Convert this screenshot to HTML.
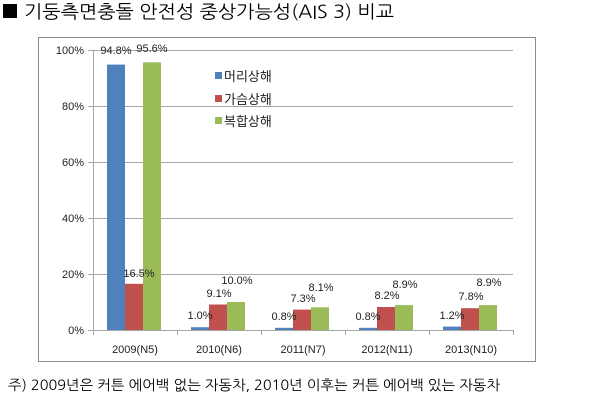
<!DOCTYPE html>
<html><head><meta charset="utf-8"><style>
body{margin:0;background:#fff;width:610px;height:402px;overflow:hidden}
svg{display:block}
</style></head><body>
<svg width="610" height="402" xmlns="http://www.w3.org/2000/svg" font-family="'Liberation Sans','Noto Sans CJK KR',sans-serif">
<rect x="3" y="4" width="14" height="14" fill="#000"/>
<text x="24" y="18" font-size="18" textLength="370" lengthAdjust="spacingAndGlyphs" font-family="'NanumGothic','Noto Sans CJK KR',sans-serif">기둥측면충돌 안전성 중상가능성(AIS 3) 비교</text>
<rect x="38.5" y="37.5" width="497" height="324" fill="#fff" stroke="#8c8c8c"/>
<g stroke="#a6a6a6" stroke-width="1">
<line x1="93" y1="50.5" x2="513" y2="50.5"/>
<line x1="93" y1="106.5" x2="513" y2="106.5"/>
<line x1="93" y1="162.5" x2="513" y2="162.5"/>
<line x1="93" y1="218.5" x2="513" y2="218.5"/>
<line x1="93" y1="274.5" x2="513" y2="274.5"/>
<line x1="93" y1="330.5" x2="513" y2="330.5"/>
<line x1="93.5" y1="50" x2="93.5" y2="335"/>
<line x1="88" y1="50.5" x2="93" y2="50.5"/><line x1="88" y1="106.5" x2="93" y2="106.5"/><line x1="88" y1="162.5" x2="93" y2="162.5"/><line x1="88" y1="218.5" x2="93" y2="218.5"/><line x1="88" y1="274.5" x2="93" y2="274.5"/><line x1="88" y1="330.5" x2="93" y2="330.5"/>
<line x1="177.5" y1="330" x2="177.5" y2="335"/><line x1="261.5" y1="330" x2="261.5" y2="335"/><line x1="345.5" y1="330" x2="345.5" y2="335"/><line x1="429.5" y1="330" x2="429.5" y2="335"/><line x1="513.5" y1="330" x2="513.5" y2="335"/>
</g>
<g font-size="11" fill="#222" text-anchor="end">
<text x="84" y="54">100%</text><text x="84" y="110">80%</text><text x="84" y="166">60%</text><text x="84" y="222">40%</text><text x="84" y="278">20%</text><text x="84" y="334">0%</text>
</g>
<g>
<rect x="107" y="64.6" width="18" height="265.4" fill="#4f81bd"/>
<rect x="125" y="283.8" width="18" height="46.2" fill="#c0504d"/>
<rect x="143" y="62.3" width="18" height="267.7" fill="#9bbb59"/>
<rect x="191" y="327.2" width="18" height="2.8" fill="#4f81bd"/>
<rect x="209" y="304.5" width="18" height="25.5" fill="#c0504d"/>
<rect x="227" y="302" width="18" height="28" fill="#9bbb59"/>
<rect x="275" y="327.8" width="18" height="2.2" fill="#4f81bd"/>
<rect x="293" y="309.6" width="18" height="20.4" fill="#c0504d"/>
<rect x="311" y="307.3" width="18" height="22.7" fill="#9bbb59"/>
<rect x="359" y="327.8" width="18" height="2.2" fill="#4f81bd"/>
<rect x="377" y="307" width="18" height="23" fill="#c0504d"/>
<rect x="395" y="305.1" width="18" height="24.9" fill="#9bbb59"/>
<rect x="443" y="326.6" width="18" height="3.4" fill="#4f81bd"/>
<rect x="461" y="308.2" width="18" height="21.8" fill="#c0504d"/>
<rect x="479" y="305.1" width="18" height="24.9" fill="#9bbb59"/>
</g>
<g font-size="11" fill="#222" text-anchor="middle">
<text x="116" y="54">94.8%</text><text x="152" y="52">95.6%</text><text x="139" y="277">16.5%</text>
<text x="200" y="319">1.0%</text><text x="219" y="297">9.1%</text><text x="237" y="284">10.0%</text>
<text x="284" y="320">0.8%</text><text x="303" y="302">7.3%</text><text x="321" y="291">8.1%</text>
<text x="368" y="320">0.8%</text><text x="387" y="299">8.2%</text><text x="405" y="288">8.9%</text>
<text x="452" y="319">1.2%</text><text x="471" y="300">7.8%</text><text x="489" y="286">8.9%</text>
</g>
<g font-size="11" fill="#222" text-anchor="middle">
<text x="135" y="353">2009(N5)</text><text x="219" y="353">2010(N6)</text><text x="303" y="353">2011(N7)</text><text x="387" y="353">2012(N11)</text><text x="471" y="353">2013(N10)</text>
</g>
<g font-size="13" fill="#222">
<rect x="215" y="72" width="7" height="7" fill="#4f81bd"/><text x="224" y="81">머리상해</text>
<rect x="215" y="95" width="7" height="7" fill="#c0504d"/><text x="224" y="104">가슴상해</text>
<rect x="215" y="117" width="7" height="7" fill="#9bbb59"/><text x="224" y="126">복합상해</text>
</g>
<text x="8" y="390" font-size="14" textLength="492" lengthAdjust="spacingAndGlyphs" font-family="'NanumGothic','Noto Sans CJK KR',sans-serif" fill="#000">주) 2009년은 커튼 에어백 없는 자동차, 2010년 이후는 커튼 에어백 있는 자동차</text>
</svg>
</body></html>
